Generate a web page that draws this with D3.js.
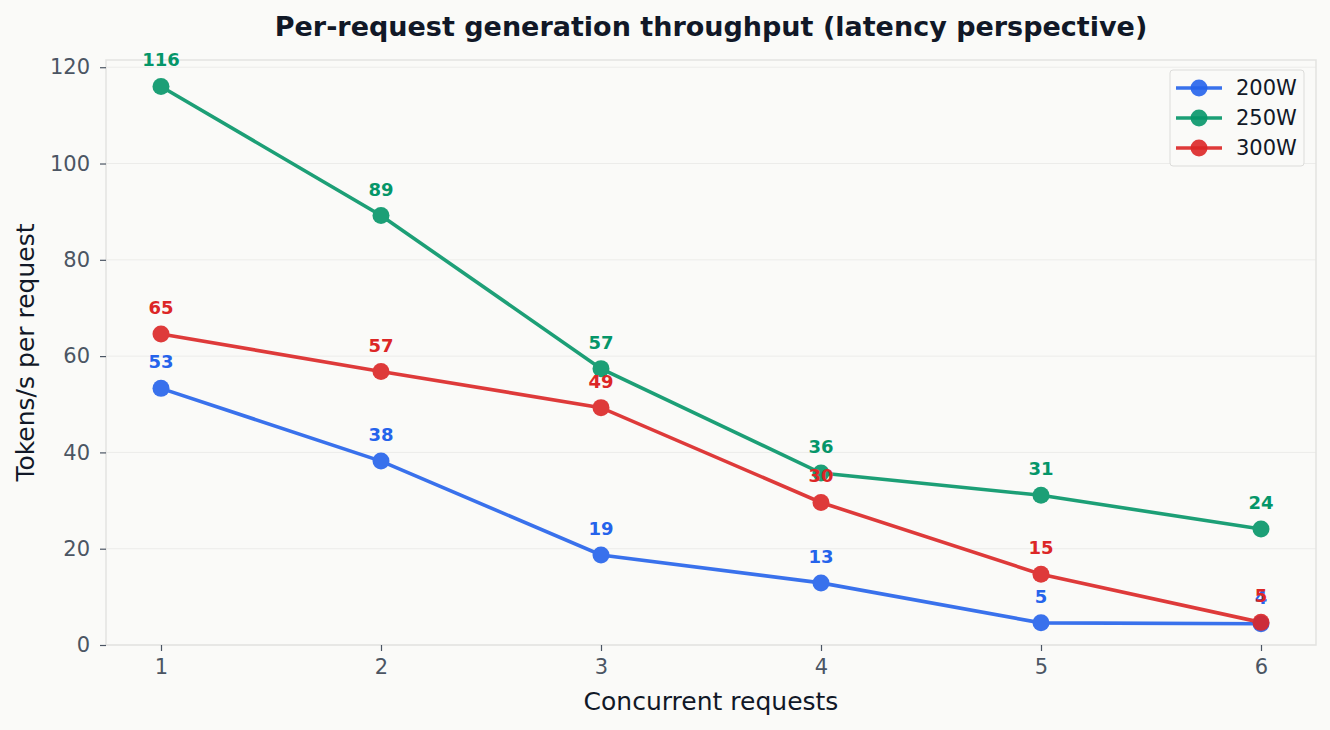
<!DOCTYPE html>
<html>
<head>
<meta charset="utf-8">
<script src="https://cdn.jsdelivr.net/npm/d3@7"></script>
<style>
  body { margin: 0; background: #fafaf8; }
  svg { display: block; font-family: "DejaVu Sans", sans-serif; }
</style>
</head>
<body>
<svg id="chart" width="1330" height="730"></svg>
<script>
const concurrency = [1, 2, 3, 4, 5, 6];
const yTicks = [0, 20, 40, 60, 80, 100, 120];
const seriesNames = ["200W", "250W", "300W"];
const values200 = [53.3, 38.2, 18.7, 12.9, 4.6, 4.4];
const values250 = [116.0, 89.2, 57.4, 35.7, 31.1, 24.1];
const values300 = [64.6, 56.8, 49.3, 29.6, 14.7, 4.7];
const lineColors = ["#2563eb", "#059669", "#dc2626"];

const series = [values200, values250, values300].map((vals, i) => ({
    name: seriesNames[i],
    color: lineColors[i],
    points: vals.map((v, j) => ({ x: concurrency[j], y: v }))
}));

const W = 1330, H = 730;
const margin = { top: 60, right: 14, bottom: 85, left: 106 };
const svg = d3.select("#chart");
svg.append("rect").attr("width", W).attr("height", H).attr("fill", "#fafaf8");

const x = d3.scaleLinear().domain([0.75, 6.25]).range([margin.left, W - margin.right]);
const y = d3.scaleLinear().domain([0, 121.5]).range([H - margin.bottom, margin.top]);

// grid
svg.append("g")
    .selectAll("line")
    .data(yTicks)
    .enter().append("line")
    .attr("x1", margin.left).attr("x2", W - margin.right)
    .attr("y1", d => y(d)).attr("y2", d => y(d))
    .attr("stroke", "#ececea").attr("stroke-width", 1);

// frame
svg.append("rect")
    .attr("x", margin.left).attr("y", margin.top)
    .attr("width", W - margin.right - margin.left)
    .attr("height", H - margin.bottom - margin.top)
    .attr("fill", "none").attr("stroke", "#e3e3e1").attr("stroke-width", 1.5);

const xAxis = svg.append("g")
    .attr("transform", `translate(0,${H - margin.bottom})`)
    .call(d3.axisBottom(x).tickValues(concurrency).tickSize(6).tickPadding(8).tickFormat(d3.format("d")));
const yAxis = svg.append("g")
    .attr("transform", `translate(${margin.left},0)`)
    .call(d3.axisLeft(y).tickValues(yTicks).tickSize(6).tickPadding(10));

[xAxis, yAxis].forEach(a => {
    a.select(".domain").remove();
    a.selectAll(".tick line").attr("stroke", "#4b5563").attr("stroke-width", 1.2);
    a.selectAll(".tick text").attr("fill", "#4b5563").attr("font-size", 21)
        .attr("font-family", "DejaVu Sans, sans-serif");
});

const line = d3.line().x(d => x(d.x)).y(d => y(d.y));

series.forEach(s => {
    const g = svg.append("g").attr("opacity", 0.9);
    g.append("path")
        .datum(s.points)
        .attr("d", line)
        .attr("fill", "none")
        .attr("stroke", s.color)
        .attr("stroke-width", 3.6);
    g.selectAll("circle")
        .data(s.points)
        .enter().append("circle")
        .attr("cx", d => x(d.x)).attr("cy", d => y(d.y))
        .attr("r", 8.5).attr("fill", s.color);
});

series.forEach(s => {
    svg.append("g").selectAll("text")
        .data(s.points)
        .enter().append("text")
        .attr("x", d => x(d.x)).attr("y", d => y(d.y) - 20)
        .attr("text-anchor", "middle")
        .attr("font-size", 18).attr("font-weight", "bold")
        .attr("fill", s.color)
        .text(d => Math.round(d.y));
});

// title and axis labels
svg.append("text")
    .attr("x", (margin.left + W - margin.right) / 2).attr("y", 36)
    .attr("text-anchor", "middle").attr("font-size", 27).attr("font-weight", "bold")
    .attr("fill", "#111827")
    .text("Per-request generation throughput (latency perspective)");
svg.append("text")
    .attr("x", (margin.left + W - margin.right) / 2).attr("y", 710)
    .attr("text-anchor", "middle").attr("font-size", 25).attr("fill", "#111827")
    .text("Concurrent requests");
svg.append("text")
    .attr("transform", `translate(34,${(margin.top + H - margin.bottom) / 2}) rotate(-90)`)
    .attr("text-anchor", "middle").attr("font-size", 25).attr("fill", "#111827")
    .text("Tokens/s per request");

// legend
const legend = svg.append("g").attr("transform", "translate(1170,70)");
legend.append("rect")
    .attr("width", 134).attr("height", 96).attr("rx", 3)
    .attr("fill", "#fafaf8").attr("stroke", "#dcdcda").attr("stroke-width", 1);
series.forEach((s, i) => {
    const row = legend.append("g").attr("transform", `translate(0,${18 + i * 30})`);
    row.append("line").attr("x1", 6).attr("x2", 52).attr("stroke", s.color)
        .attr("stroke-width", 3.6).attr("opacity", 0.9);
    row.append("circle").attr("cx", 29).attr("r", 8.5).attr("fill", s.color).attr("opacity", 0.9);
    row.append("text").attr("x", 66).attr("dy", "0.35em")
        .attr("font-size", 21).attr("fill", "#111827").text(s.name);
});
</script>
</body>
</html>
